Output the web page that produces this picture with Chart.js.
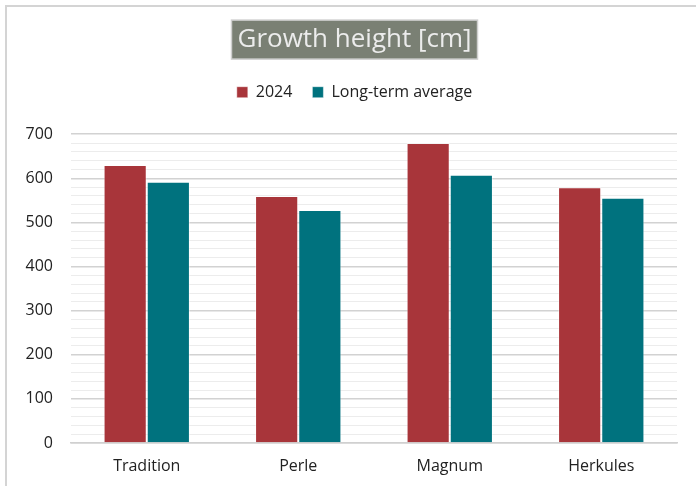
<!DOCTYPE html>
<html>
<head>
<meta charset="utf-8">
<script src="https://cdn.jsdelivr.net/npm/chart.js@4.4.1/dist/chart.umd.min.js"></script>
<style>
  body { margin: 0; background: #fff; }
  #wrap { position: relative; width: 696px; height: 486px; overflow: hidden; }
  #frame { position: absolute; left: 5px; top: 5px; width: 700px; height: 490px;
           border-left: 2px solid #d4d4d4; border-top: 2px solid #d4d4d4; }
  #growthChart { position: absolute; left: 0; top: 0; }
</style>
</head>
<body>
<div id="wrap">
  <div id="frame"></div>
  <canvas id="growthChart" width="696" height="486"></canvas>
</div>
<script>
const varieties = ["Tradition", "Perle", "Magnum", "Herkules"];
const height2024 = [630, 560, 680, 580];
const longTermAvg = [592, 528, 608, 556];
const yMax = 700;
const yStep = 20;      // minor gridlines
const labelStep = 100; // labelled / major gridlines

const FONT = "Open Sans";
const TITLE_SIZE = 26;
const TITLE_PAD_TOP = 24;
const HEADER_SHIFT = 10; // title + legend sit a bit right of the plot centre

// grey box behind the chart title
const titleBox = {
  id: "titleBox",
  beforeDraw(chart) {
    const t = chart.titleBlock;
    if (!t) return;
    const ctx = chart.ctx;
    ctx.save();
    ctx.font = Chart.helpers.toFont(t.options.font).string;
    const w = ctx.measureText(t.options.text).width + 12;
    const cx = (t.left + t.right) / 2;
    const cy = t.top + TITLE_PAD_TOP + TITLE_SIZE * 1.2 / 2;
    ctx.fillStyle = "#7a8074";
    ctx.strokeStyle = "#cfcfcf";
    ctx.lineWidth = 1.5;
    ctx.fillRect(cx - w / 2, cy - 19.5, w, 39);
    ctx.strokeRect(cx - w / 2, cy - 19.5, w, 39);
    ctx.restore();
  },
};

// extra room between legend and plot, and nudge the header right
const headerLayout = {
  id: "headerLayout",
  beforeLayout(chart) {
    const lg = chart.legend;
    if (lg && !lg._spaced) {
      const fit = lg.fit;
      lg.fit = function () {
        fit.call(this);
        this.height += 24;
      };
      lg._spaced = true;
    }
  },
  afterLayout(chart) {
    [chart.titleBlock, chart.legend].forEach((b) => {
      if (b) {
        b.left += HEADER_SHIFT;
        b.right += HEADER_SHIFT;
      }
    });
  },
};

new Chart(document.getElementById("growthChart"), {
  type: "bar",
  data: {
    labels: varieties,
    datasets: [
      {
        label: "2024",
        data: height2024,
        backgroundColor: "#a8353a",
        borderColor: "rgba(255,255,255,0.45)",
        borderWidth: 1,
      },
      {
        label: "Long-term average",
        data: longTermAvg,
        backgroundColor: "#00727e",
        borderColor: "rgba(255,255,255,0.45)",
        borderWidth: 1,
      },
    ],
  },
  options: {
    responsive: false,
    animation: false,
    categoryPercentage: 0.57,
    barPercentage: 1.0,
    layout: { padding: { left: 12, right: 19, top: 0, bottom: 0 } },
    plugins: {
      title: {
        display: true,
        text: "Growth height [cm]",
        color: "#ececec",
        font: { family: FONT, size: TITLE_SIZE, weight: "normal" },
        padding: { top: TITLE_PAD_TOP, bottom: 9 },
      },
      legend: {
        display: true,
        labels: {
          boxWidth: 11,
          boxHeight: 11,
          padding: 20,
          color: "#222",
          font: { family: FONT, size: 16 },
        },
      },
      tooltip: { enabled: false },
    },
    scales: {
      x: {
        afterFit(scale) { scale.height = 43; },
        grid: { display: false, drawTicks: false },
        border: { display: true, color: "#d0d0d0", width: 1.5 },
        ticks: { color: "#222", padding: 14, font: { family: FONT, size: 16 } },
      },
      y: {
        min: 0,
        max: yMax,
        afterFit(scale) { scale.width = 59; },
        border: { display: false },
        grid: {
          drawTicks: false,
          color: (c) => (c.tick && c.tick.value % labelStep === 0 ? "#d2d2d2" : "#ececec"),
          lineWidth: (c) => (c.tick && c.tick.value % labelStep === 0 ? 1.5 : 1),
        },
        ticks: {
          stepSize: yStep,
          autoSkip: false,
          padding: 18,
          color: "#222",
          font: { family: FONT, size: 16 },
          callback: (v) => (v % labelStep === 0 ? v : ""),
        },
      },
    },
  },
  plugins: [titleBox, headerLayout],
});
</script>
</body>
</html>
